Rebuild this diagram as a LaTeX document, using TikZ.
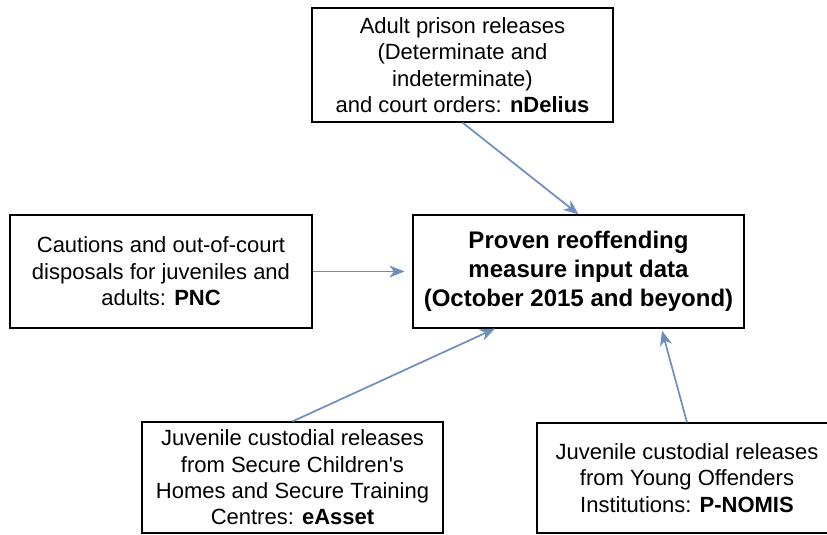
\documentclass[tikz,border=0pt]{standalone}
\usepackage{fontspec}
\setmainfont{Liberation Sans}
\usetikzlibrary{arrows.meta}
\definecolor{arrowblue}{HTML}{6C8EBF}
\begin{document}
\begin{tikzpicture}[x=1pt,y=-1pt,
  srcbox/.style={draw=black, line width=1.2pt, inner sep=0pt, align=center,
    font=\fontsize{22}{26.4}\selectfont},
  mainbox/.style={draw=black, line width=1.2pt, inner sep=0pt, align=center,
    font=\fontsize{24}{28.8}\selectfont\bfseries},
  link/.style={draw=arrowblue, line width=1.7pt,
    -{Stealth[length=15pt,width=12pt,inset=4.5pt]}}]
\useasboundingbox (0,0) rectangle (827,535);
\node[srcbox, minimum width=301pt, minimum height=114pt] (top) at (462.5,65)
  {Adult prison releases\\(Determinate and\\indeterminate)\\and court orders: \textbf{nDelius}};
\node[srcbox, minimum width=302pt, minimum height=113pt] (left) at (161,271.5)
  {Cautions and out-of-court\\disposals for juveniles and\\adults: \textbf{PNC}};
\node[mainbox, minimum width=331pt, minimum height=113pt] (main) at (578.5,271.5)
  {Proven reoffending\\measure input data\\(October 2015 and beyond)};
\node[srcbox, minimum width=301pt, minimum height=111pt] (bl) at (292.5,477.5)
  {Juvenile custodial releases\\from Secure Children\textquotesingle s\\Homes and Secure Training\\Centres: \textbf{eAsset}};
\node[srcbox, minimum width=300pt, minimum height=110pt] (br) at (687,478)
  {Juvenile custodial releases\\from Young Offenders\\Institutions: \textbf{P-NOMIS}};
\coordinate (mainW) at ([xshift=-8pt]main.west);
\coordinate (mainSL) at ([xshift=-83.5pt]main.south);
\coordinate (mainSR) at ([xshift=83.5pt,yshift=-2pt]main.south);
\draw[link] (top.south) -- (main.north);
\draw[link] (left.east) -- (mainW);
\draw[link] (bl.north) -- (mainSL);
\draw[link] (br.north) -- (mainSR);
\end{tikzpicture}
\end{document}
